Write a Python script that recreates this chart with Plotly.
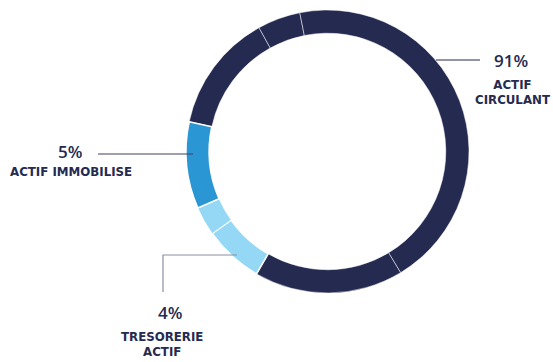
import plotly.graph_objects as go

# Ring segments, clockwise, starting at the medium-blue / navy boundary (upper left)
segment_share = [13.6, 4.9, 44.5, 17.0, 6.8, 3.3, 9.9]
segment_group = ["circulant", "circulant", "circulant", "circulant",
                 "tresorerie", "tresorerie", "immobilise"]

label_pct = ["91%", "5%", "4%"]
label_name = ["ACTIF<br>CIRCULANT", "ACTIF IMMOBILISE", "TRESORERIE<br>ACTIF"]

NAVY = "#252a50"
colors = {"circulant": NAVY, "immobilise": "#2a96d4", "tresorerie": "#94d8f5"}
seg_colors = [colors[g] for g in segment_group]
line_w = [0.5, 0.5, 0.5, 0.5, 1.6, 0.6, 1.6]

W, H = 553, 362
def px(x):
    return x / W
def py(y):
    return 1 - y / H

fig = go.Figure(go.Pie(
    values=segment_share,
    sort=False,
    direction="clockwise",
    rotation=282.1,
    hole=0.836,
    marker=dict(colors=seg_colors, line=dict(color="white", width=line_w)),
    textinfo="none",
    hoverinfo="skip",
    showlegend=False,
    domain=dict(x=[px(186), px(469)], y=[py(293), py(10)]),
))

PCT = dict(size=17, color=NAVY, family="Open Sans", weight=600)
LAB = dict(size=11.8, color=NAVY, family="DejaVu Sans", weight=700)
ann = []
# 91% ACTIF CIRCULANT
ann.append(dict(x=px(511), y=py(61), text=label_pct[0], font=PCT))
ann.append(dict(x=px(512), y=py(93), text=label_name[0], font=LAB))
# 5% ACTIF IMMOBILISE
ann.append(dict(x=px(70), y=py(151), text=label_pct[1], font=PCT))
ann.append(dict(x=px(71), y=py(172), text=label_name[1], font=LAB))
# 4% TRESORERIE ACTIF
ann.append(dict(x=px(170), y=py(312), text=label_pct[2], font=PCT))
ann.append(dict(x=px(162), y=py(344), text=label_name[2], font=LAB))
for a in ann:
    a.update(xref="paper", yref="paper", showarrow=False, xanchor="center", yanchor="middle", align="center")

shapes = [
    dict(type="line", x0=px(436), y0=py(60), x1=px(480), y1=py(60), line=dict(color=NAVY, width=1)),
    dict(type="line", x0=px(98), y0=py(154), x1=px(193), y1=py(154), line=dict(color="#3c4160", width=1)),
    dict(type="path", path=f"M {px(163)},{py(292)} L {px(163)},{py(255)} L {px(237)},{py(255)}",
         line=dict(color="#8a8ea2", width=1.2)),
]
for s in shapes:
    s.update(xref="paper", yref="paper")

fig.update_layout(
    width=W, height=H,
    margin=dict(l=0, r=0, t=0, b=0),
    paper_bgcolor="white", plot_bgcolor="white",
    annotations=ann, shapes=shapes,
)
fig.write_html("out.html")
